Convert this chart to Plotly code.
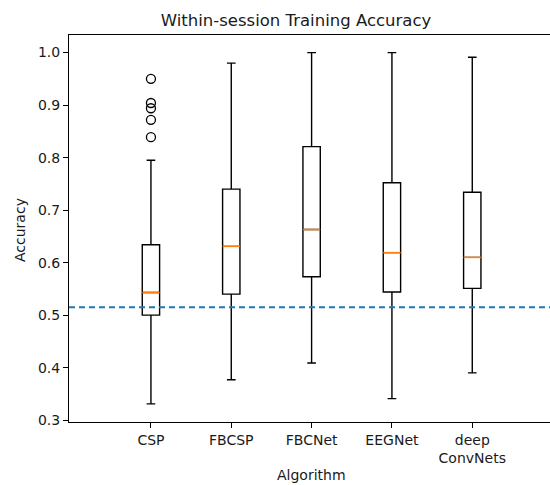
import plotly.graph_objects as go

algorithms = ["CSP", "FBCSP", "FBCNet", "EEGNet", "deep<br>ConvNets"]
positions = [1, 2, 3, 4, 5]
lower_whisker = [0.331, 0.377, 0.409, 0.341, 0.390]
q1 = [0.500, 0.540, 0.573, 0.544, 0.551]
median = [0.543, 0.631, 0.663, 0.619, 0.610]
q3 = [0.634, 0.740, 0.821, 0.752, 0.734]
upper_whisker = [0.795, 0.980, 1.000, 1.000, 0.991]
csp_outliers = [0.950, 0.904, 0.894, 0.872, 0.839]
chance_level = 0.515
yticks = [0.3, 0.4, 0.5, 0.6, 0.7, 0.8, 0.9, 1.0]

box_w = 0.216
font = "DejaVu Sans"
W, H = 553, 485
L, R, T, B = 69, 0, 35, 63
x_range = [-0.02, 6.005]

fig = go.Figure()
fig.add_trace(go.Box(
    x=positions, q1=q1, median=median, q3=q3,
    lowerfence=lower_whisker, upperfence=upper_whisker,
    width=box_w, whiskerwidth=0.5, boxpoints=False,
    fillcolor="rgba(255,255,255,0)", line=dict(color="black", width=1.4),
    showlegend=False, hoverinfo="skip",
))

mx, my = [], []
for p, m in zip(positions, median):
    mx += [p - box_w / 2, p + box_w / 2, None]
    my += [m, m, None]
fig.add_trace(go.Scatter(x=mx, y=my, mode="lines",
                         line=dict(color="#ff7f0e", width=1.5),
                         showlegend=False, hoverinfo="skip"))

fig.add_trace(go.Scatter(x=[positions[0]] * len(csp_outliers), y=csp_outliers,
                         mode="markers",
                         marker=dict(symbol="circle-open", size=9, color="black",
                                     line=dict(width=1.3)),
                         showlegend=False, hoverinfo="skip"))

fig.add_trace(go.Scatter(x=x_range, y=[chance_level, chance_level], mode="lines",
                         line=dict(color="#1f77b4", width=2, dash="6px,4px"),
                         showlegend=False, hoverinfo="skip"))

pw = W - L - R
ph = H - T - B
fig.update_layout(
    width=W, height=H,
    margin=dict(l=L, r=R, t=T, b=B, autoexpand=False),
    paper_bgcolor="white", plot_bgcolor="white",
    font=dict(family=font, size=14, color="#1a1a1a"),
    title=dict(text="Within-session Training Accuracy", x=(296 - L) / pw, xref="paper",
               xanchor="center", y=(H - 20) / H, yref="container", yanchor="middle",
               font=dict(size=16.5, color="#1a1a1a")),
    annotations=[
        dict(text="Algorithm", xref="paper", yref="paper", x=(311 - L) / pw,
             y=-(475 - (T + ph)) / ph, xanchor="center", yanchor="middle",
             showarrow=False, font=dict(size=14)),
        dict(text="Accuracy", xref="paper", yref="paper", x=-(L - 20) / pw,
             y=(T + ph - 230) / ph, xanchor="center", yanchor="middle",
             textangle=-90, showarrow=False, font=dict(size=14)),
    ],
)
fig.update_xaxes(
    range=x_range, tickmode="array", tickvals=positions, ticktext=algorithms,
    showgrid=False, zeroline=False, showline=True, linecolor="black", linewidth=1,
    mirror=True, ticks="outside", ticklen=5, tickcolor="black", automargin=False,
    tickfont=dict(size=14),
)
fig.update_yaxes(
    range=[0.2965, 1.0335], tickmode="array", tickvals=yticks,
    ticktext=[f"{v:.1f}" for v in yticks],
    showgrid=False, zeroline=False, showline=True, linecolor="black", linewidth=1,
    mirror=False, ticks="outside", ticklen=5, tickcolor="black", automargin=False,
    tickfont=dict(size=14),
)

fig.write_html("out.html", config={"displayModeBar": False},
               post_script="document.body.style.margin='0';document.body.style.overflow='hidden';")
